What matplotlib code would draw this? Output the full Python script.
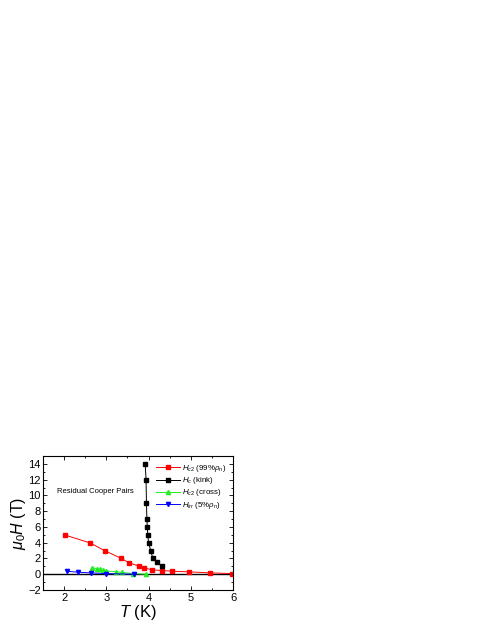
import matplotlib
matplotlib.use("Agg")
import matplotlib.pyplot as plt
from matplotlib.ticker import MultipleLocator

plt.rcParams['font.family'] = ['Liberation Sans', 'DejaVu Sans']
plt.rcParams['mathtext.fontset'] = 'custom'
plt.rcParams['mathtext.it'] = 'Liberation Sans:italic'
plt.rcParams['mathtext.rm'] = 'Liberation Sans'

# Hc2 (99% rho_n)
red_T = [2.03, 2.61, 2.97, 3.34, 3.53, 3.77, 3.89, 4.09, 4.31, 4.55, 4.96, 5.45, 5.98]
red_H = [4.96, 3.98, 2.97, 2.04, 1.48, 1.02, 0.81, 0.55, 0.47, 0.38, 0.30, 0.17, 0.08]
# Hc (kink)
blk_T = [3.92, 3.94, 3.95, 3.96, 3.97, 3.98, 4.00, 4.05, 4.10, 4.21, 4.31]
blk_H = [14.0, 12.0, 9.0, 7.0, 6.0, 5.0, 4.0, 3.0, 2.0, 1.5, 1.0]
# Hc2 (cross)
grn_T = [2.66, 2.78, 2.85, 2.92, 3.00, 3.22, 3.36, 3.64, 3.94]
grn_H = [0.85, 0.68, 0.60, 0.51, 0.42, 0.31, 0.23, 0.08, 0.00]
# Hirr (5% rho_n)
blu_T = [2.07, 2.33, 2.63, 2.99, 3.66]
blu_H = [0.38, 0.25, 0.17, 0.08, 0.00]

fig = plt.figure(figsize=(4.91, 6.35), dpi=100)
ax = fig.add_axes([0.0876, 0.0709, 0.387, 0.211])

ax.axhline(0, color='black', lw=1.0, zorder=1)
ms = 2.5
ax.plot(red_T, red_H, '-s', color='red', ms=ms, lw=0.7, label=r'$H_{c2}$ (99%$\rho_n$)')
ax.plot(blk_T, blk_H, '-s', color='black', ms=ms, lw=0.7, label=r'$H_c$ (kink)')
ax.plot(grn_T, grn_H, '-^', color='#22ee22', ms=ms + 0.5, lw=0.7, label=r'$H_{c2}$ (cross)')
ax.plot(blu_T, blu_H, '-v', color='blue', ms=ms + 0.5, lw=0.7, label=r'$H_{irr}$ (5%$\rho_n$)')

ax.set_xlim(1.5, 6)
ax.set_ylim(-2, 15)
ax.xaxis.set_major_locator(MultipleLocator(1))
ax.xaxis.set_minor_locator(MultipleLocator(0.5))
ax.yaxis.set_major_locator(MultipleLocator(2))
ax.yaxis.set_minor_locator(MultipleLocator(1))
ax.tick_params(which='both', direction='in', top=True, right=True, labelsize=8, width=0.6, pad=2.5)
ax.tick_params(axis='y', which='both', pad=1.5)
ax.tick_params(which='major', length=3)
ax.tick_params(which='minor', length=1.5)
for s in ax.spines.values():
    s.set_linewidth(0.8)

ax.set_xlabel(r'$T$ (K)', fontsize=12, labelpad=0)
ax.set_ylabel(r'$\mu_0H$ (T)', fontsize=11.5, labelpad=0)

ax.text(1.83, 10.5, 'Residual Cooper Pairs', fontsize=5.5, va='center', ha='left')

ax.legend(loc='upper right', fontsize=5.7, frameon=False, handlelength=3.0,
          handletextpad=0.2, labelspacing=0.15, borderaxespad=0.5)

fig.savefig('out.png', dpi=100)
